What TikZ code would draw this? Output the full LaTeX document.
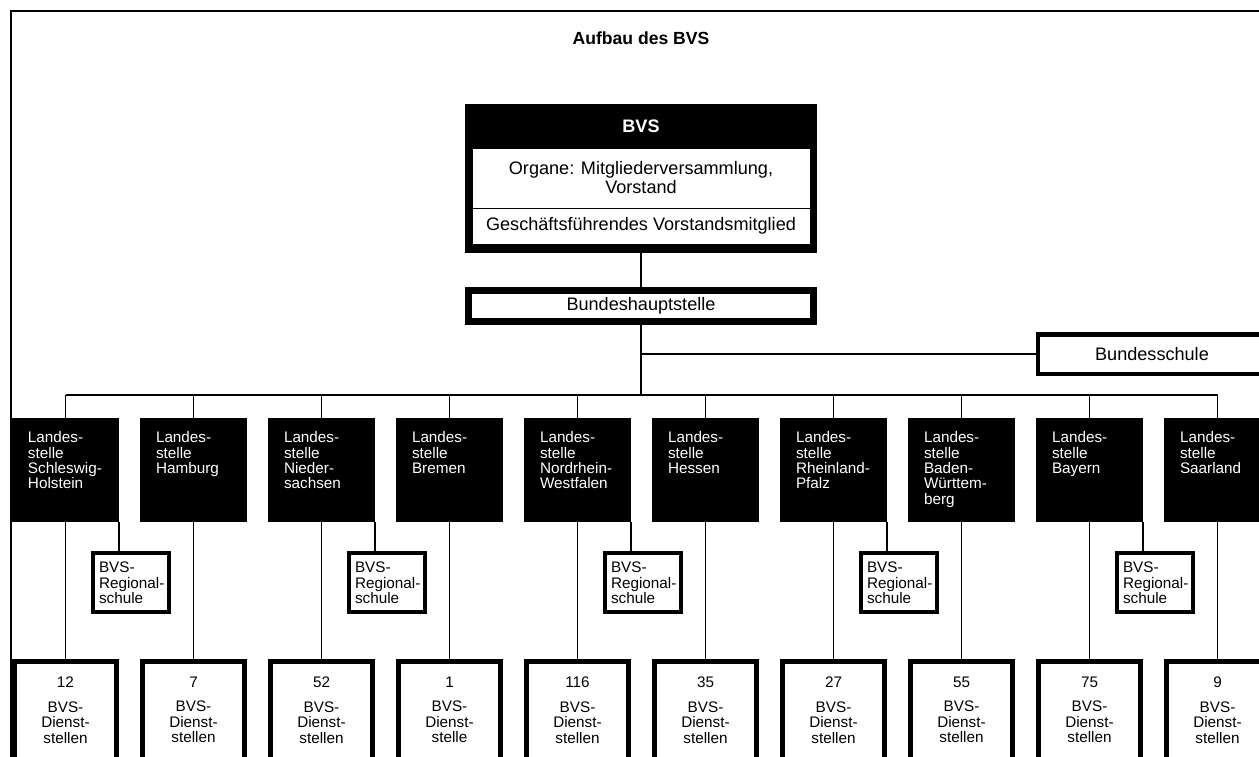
\documentclass[tikz,border=0pt]{standalone}
\usepackage{fontspec}
\setmainfont{Liberation Sans}
\usetikzlibrary{positioning, calc}

% one pixel of the drawing
\newlength{\px}
\setlength{\px}{0.02cm}

\begin{document}
\begin{tikzpicture}[
    x=0.02cm, y=-0.02cm,
    every node/.style={inner sep=0pt, outer sep=0pt},
    big/.style={font=\fontsize{10.3}{10.8}\selectfont},
    small/.style={font=\fontsize{8.7}{8.8}\selectfont},
    conn/.style={line width=1.2*\px},
    framebox/.style={rectangle, draw, fill=white},
    landbox/.style={rectangle, fill=black, minimum width=107*\px, minimum height=104*\px},
    landtext/.style={small, text=white, align=left, anchor=north west},
    dienstbox/.style={framebox, line width=5*\px, minimum width=102*\px, minimum height=125*\px},
    regbox/.style={framebox, line width=4*\px, minimum width=76*\px, minimum height=59*\px},
    regtext/.style={small, align=left, anchor=north west}
]

\useasboundingbox (0,0) rectangle (1259,757);
\clip (0,0) rectangle (1259,757);

% Parameters for the columns
\newcommand{\ColStart}{65.5}
\newcommand{\ColSep}{128}
\newcommand{\BusY}{395}

% Frame and title
\draw[line width=2*\px] (11,757) -- (11,11) -- (1259,11);
\node[font=\bfseries\fontsize{10}{12}\selectfont] (title) at (641,38) {Aufbau des BVS};

% BVS box with its organs
\node[rectangle, fill=black, minimum width=352*\px, minimum height=149*\px] (bvs) at (641,178.5) {};
\node[font=\bfseries\fontsize{10.3}{12}\selectfont, text=white] (bvs-name) at (641,126) {BVS};
\node[framebox, big, align=center, minimum width=338*\px, minimum height=60*\px] (organe) at (641,178) {Organe: Mitgliederversammlung,\\Vorstand};
\node[framebox, big, minimum width=338*\px, minimum height=36*\px] (gfvm) at (641,226) {Geschäftsführendes Vorstandsmitglied};

% Bundeshauptstelle and Bundesschule
\node[framebox, big, line width=7*\px, minimum width=345*\px, minimum height=31*\px] (bhs) at (641,306) {Bundeshauptstelle};
\node[framebox, big, line width=4.5*\px, minimum width=228*\px, minimum height=39.5*\px] (bschule) at (1152,354) {Bundesschule};

\coordinate (fork) at (641,354);
\coordinate (bus) at (641,\BusY);
\draw[conn] (bvs.south) -- (bhs.north);
\draw[conn] (bhs.south) -- (bus);
\draw[conn] (fork) -- (bschule.west);

% Landesstellen and their Dienststellen
\foreach \i/\lname/\dnum/\dname in {
    1/{Schleswig-\\Holstein}/12/stellen,
    2/Hamburg/7/stellen,
    3/{Nieder-\\sachsen}/52/stellen,
    4/Bremen/1/stelle,
    5/{Nordrhein-\\Westfalen}/116/stellen,
    6/Hessen/35/stellen,
    7/{Rheinland-\\Pfalz}/27/stellen,
    8/{Baden-\\Württem-\\berg}/55/stellen,
    9/Bayern/75/stellen,
    10/Saarland/9/stellen}{
    \pgfmathsetmacro{\cx}{\ColStart+\ColSep*(\i-1)}
    \coordinate (bus-\i) at (\cx,\BusY);
    \node[landbox] (land-\i) at (\cx,470) {};
    \node[landtext] (landtxt-\i) at ([xshift=16*\px, yshift=-13.5*\px]land-\i.north west) {Landes-\\stelle\\\lname};
    \node[dienstbox] (dienst-\i) at (\cx,724) {};
    \node[small, align=center, anchor=north] (dtxt-\i) at (\cx,676.5) {\dnum\\[5.4pt]BVS-\\Dienst-\\\dname};
    \draw[conn] (bus-\i) -- (land-\i.north);
    \draw[conn] (land-\i.south) -- (dienst-\i.north);
}
\draw[conn] (bus-1) -- (bus-10);

% Regionalschulen
\foreach \i in {1,3,5,7,9}{
    \pgfmathsetmacro{\rx}{\ColStart+65.5+\ColSep*(\i-1)}
    \node[regbox] (reg-\i) at (\rx,582.5) {};
    \node[regtext] (regtxt-\i) at ([xshift=6*\px, yshift=-9*\px]reg-\i.north west) {BVS-\\Regional-\\schule};
    \draw[conn] (land-\i.south east) -- (land-\i.south east |- reg-\i.north);
}

\end{tikzpicture}
\end{document}
